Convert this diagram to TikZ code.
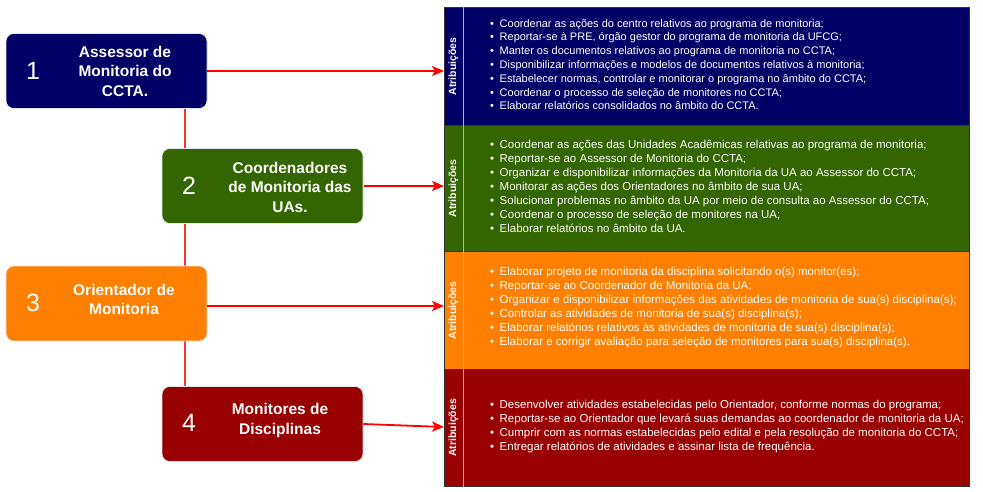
\documentclass[tikz,border=0pt]{standalone}
\usepackage{fontspec}
\setmainfont{Liberation Sans}
\usetikzlibrary{arrows.meta}
\definecolor{cnavy}{HTML}{000066}
\definecolor{cgreen}{HTML}{336600}
\definecolor{corange}{HTML}{FF8000}
\definecolor{cred}{HTML}{990000}
\definecolor{arrowred}{HTML}{FF0000}
\definecolor{linered}{HTML}{FF3333}
\newcommand\bitem{\makebox[9.5pt][l]{\textbullet}}
\begin{document}
\begin{tikzpicture}[x=1pt,y=-1pt,
  rolebox/.style={draw=white!80!gray, line width=0.6pt, rounded corners=8pt, minimum width=201pt, minimum height=75pt, inner sep=0pt},
  rolenum/.style={text=white, font=\fontsize{25}{25}\selectfont, inner sep=0pt},
  roletext/.style={text=white, font=\fontsize{15.5}{19.5}\selectfont\bfseries, align=center, inner sep=0pt},
  rowbox/.style={draw=black!80, line width=0.7pt, minimum width=525pt, inner sep=0pt, anchor=north west},
  rowlabel/.style={text=white, rotate=90, font=\fontsize{10.5}{10.5}\selectfont\bfseries, inner sep=0pt},
  rowtext/.style={text=white, font=\fontsize{11.5}{14}\selectfont, align=left, anchor=west, inner sep=0pt},
  divider/.style={draw=gray!60, line width=0.8pt},
  link/.style={draw=arrowred, line width=1.8pt, -{Stealth[length=12pt,width=10pt,inset=3pt]}},
  spine/.style={draw=linered, line width=2pt}
]
\useasboundingbox (0,0) rectangle (983,492);

% right panel rows
\node[rowbox, fill=cnavy, minimum height=118pt] (r1) at (444,7) {};
\node[rowbox, fill=cgreen, minimum height=126pt] (r2) at (444,125) {};
\node[rowbox, fill=corange, minimum height=118pt] (r3) at (444,251) {};
\node[rowbox, fill=cred, minimum height=117pt] (r4) at (444,369) {};
\foreach \r in {r1,r2,r3,r4}{
  \draw[divider] ([xshift=19pt]\r.north west) -- ([xshift=19pt]\r.south west);
}
\node[rowlabel] (l1) at ([xshift=9.5pt]r1.west) {Atribuições};
\node[rowlabel] (l2) at ([xshift=9.5pt]r2.west) {Atribuições};
\node[rowlabel] (l3) at ([xshift=9.5pt]r3.west) {Atribuições};
\node[rowlabel] (l4) at ([xshift=9.5pt]r4.west) {Atribuições};

\node[rowtext, font=\fontsize{11}{13.8}\selectfont] (x1) at (490,64.5) {%
\bitem Coordenar as ações do centro relativos ao programa de monitoria;\\
\bitem Reportar-se à PRE, órgão gestor do programa de monitoria da UFCG;\\
\bitem Manter os documentos relativos ao programa de monitoria no CCTA;\\
\bitem Disponibilizar informações e modelos de documentos relativos à monitoria;\\
\bitem Estabelecer normas, controlar e monitorar o programa no âmbito do CCTA;\\
\bitem Coordenar o processo de seleção de monitores no CCTA;\\
\bitem Elaborar relatórios consolidados no âmbito do CCTA.};

\node[rowtext] (x2) at (490,186.5) {%
\bitem Coordenar as ações das Unidades Acadêmicas relativas ao programa de monitoria;\\
\bitem Reportar-se ao Assessor de Monitoria do CCTA;\\
\bitem Organizar e disponibilizar informações da Monitoria da UA ao Assessor do CCTA;\\
\bitem Monitorar as ações dos Orientadores no âmbito de sua UA;\\
\bitem Solucionar problemas no âmbito da UA por meio de consulta ao Assessor do CCTA;\\
\bitem Coordenar o processo de seleção de monitores na UA;\\
\bitem Elaborar relatórios no âmbito da UA.};

\node[rowtext] (x3) at (490,307.5) {%
\bitem Elaborar projeto de monitoria da disciplina solicitando o(s) monitor(es);\\
\bitem Reportar-se ao Coordenador de Monitoria da UA;\\
\bitem Organizar e disponibilizar informações das atividades de monitoria de sua(s) disciplina(s);\\
\bitem Controlar as atividades de monitoria de sua(s) disciplina(s);\\
\bitem Elaborar relatórios relativos às atividades de monitoria de sua(s) disciplina(s);\\
\bitem Elaborar e corrigir avaliação para seleção de monitores para sua(s) disciplina(s).};

\node[rowtext] (x4) at (490,426.5) {%
\bitem Desenvolver atividades estabelecidas pelo Orientador, conforme normas do programa;\\
\bitem Reportar-se ao Orientador que levará suas demandas ao coordenador de monitoria da UA;\\
\bitem Cumprir com as normas estabelecidas pelo edital e pela resolução de monitoria do CCTA;\\
\bitem Entregar relatórios de atividades e assinar lista de frequência.};

% spine behind boxes
\coordinate (s1) at (185,71);
\coordinate (s4) at (185,424);
\draw[spine] (s1) -- (s4);

% left role boxes
\node[rolebox, fill=cnavy] (b1) at (106.5,71) {};
\node[rolebox, fill=cgreen] (b2) at (262.5,186) {};
\node[rolebox, fill=corange] (b3) at (106.5,303.5) {};
\node[rolebox, fill=cred] (b4) at (262.5,424) {};

\node[rolenum] (n1) at (33,71) {1};
\node[rolenum] (n2) at (189,186) {2};
\node[rolenum] (n3) at (33,303) {3};
\node[rolenum] (n4) at (189,423) {4};

\node[roletext] (t1) at (125,71) {Assessor de\\Monitoria do\\CCTA.};
\node[roletext] (t2) at (290,187) {Coordenadores\\de Monitoria das\\UAs.};
\node[roletext] (t3) at (124,299.5) {Orientador de\\Monitoria};
\node[roletext] (t4) at (280,420.5) {Monitores de\\Disciplinas};

% arrows
\coordinate (a1) at (444,71);
\coordinate (a2) at (444,186);
\coordinate (a3) at (444,306);
\coordinate (a4) at (444,427);
\draw[link] (b1.east |- a1) -- (a1);
\draw[link] ([xshift=1pt]b2.east |- a2) -- (a2);
\draw[link] (b3.east |- a3) -- (a3);
\draw[link] (b4.east) -- (a4);
\end{tikzpicture}
\end{document}
